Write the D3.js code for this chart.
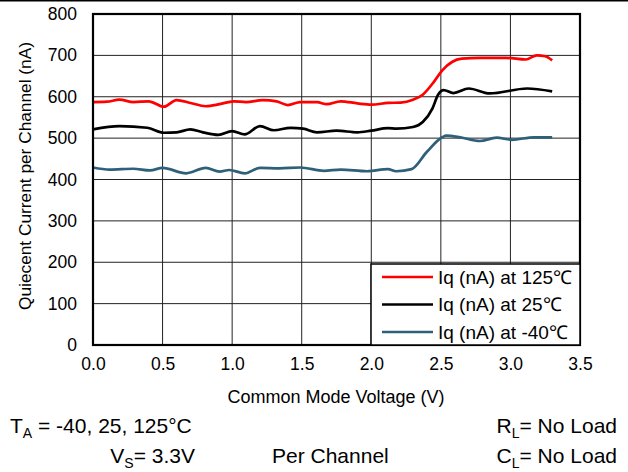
<!DOCTYPE html>
<html>
<head>
<meta charset="utf-8">
<script src="https://cdn.jsdelivr.net/npm/d3@7"></script>
<style>
  body { margin: 0; background: #fff; }
  text { font-family: "Liberation Sans", Arial, sans-serif; fill: #000; }
</style>
</head>
<body>
<svg id="chart" width="628" height="472"></svg>
<script>
// values
var volts125 = [0, 0.10, 0.19, 0.29, 0.40, 0.51, 0.60, 0.70, 0.81, 0.91, 1.01, 1.10, 1.22, 1.32, 1.40, 1.49, 1.61, 1.68, 1.78, 1.90, 2.00, 2.12, 2.21, 2.30, 2.37, 2.45, 2.51, 2.58, 2.65, 2.78, 2.97, 3.11, 3.19, 3.25, 3.30];
var iq125 = [587, 588, 593, 587, 589, 576, 592, 585, 577, 582, 589, 587, 592, 589, 580, 587, 587, 582, 589, 584, 581, 585, 586, 593, 605, 636, 664, 684, 692, 694, 694, 690, 700, 698, 688];

var volts25 = [0, 0.19, 0.39, 0.51, 0.60, 0.70, 0.79, 0.90, 1.00, 1.09, 1.20, 1.30, 1.42, 1.51, 1.61, 1.75, 1.90, 2.00, 2.12, 2.18, 2.30, 2.37, 2.44, 2.48, 2.52, 2.59, 2.70, 2.85, 3.12, 3.30];
var iq25 = [521, 529, 525, 513, 514, 521, 514, 508, 517, 509, 529, 519, 525, 523, 514, 518, 514, 518, 524, 523, 527, 539, 572, 605, 616, 609, 620, 608, 620, 613];

var voltsM40 = [0, 0.12, 0.29, 0.41, 0.50, 0.67, 0.81, 0.91, 0.98, 1.09, 1.20, 1.34, 1.49, 1.66, 1.78, 1.97, 2.12, 2.18, 2.29, 2.40, 2.51, 2.54, 2.64, 2.78, 2.90, 3.01, 3.17, 3.30];
var iqM40 = [429, 424, 426, 422, 428, 415, 428, 419, 423, 415, 428, 427, 429, 421, 424, 420, 425, 420, 425, 467, 502, 506, 502, 493, 501, 496, 502, 502];

var seriesNames = ["Iq (nA) at 125\u2103", "Iq (nA) at 25\u2103", "Iq (nA) at -40\u2103"];
var seriesColors = ["#ff0000", "#000000", "#2e6079"];
var xTicks = [0, 0.5, 1, 1.5, 2, 2.5, 3, 3.5];
var yTicks = [0, 100, 200, 300, 400, 500, 600, 700, 800];

var series = [
  volts125.map(function (v, i) { return [v, iq125[i]]; }),
  volts25.map(function (v, i) { return [v, iq25[i]]; }),
  voltsM40.map(function (v, i) { return [v, iqM40[i]]; })
];

var svg = d3.select("#chart");
// plot box (note: "top" is reserved on window, so use a margin object)
var plot = {left: 93, right: 580, top: 14, bottom: 345};

var x = d3.scaleLinear().domain([0, 3.5]).range([plot.left, plot.right]);
var y = d3.scaleLinear().domain([0, 800]).range([plot.bottom, plot.top]);

svg.append("rect").attr("width", 628).attr("height", 472).attr("fill", "#fff");

// thin rule across the top of the figure
svg.append("line")
  .attr("x1", 0).attr("x2", 628).attr("y1", 0.75).attr("y2", 0.75)
  .attr("stroke", "#000").attr("stroke-width", 1.5);

// grid
svg.append("g")
  .selectAll("line")
  .data(xTicks.slice(1, -1))
  .enter().append("line")
  .attr("x1", function (d) { return x(d); })
  .attr("x2", function (d) { return x(d); })
  .attr("y1", plot.top).attr("y2", plot.bottom)
  .attr("stroke", "#222").attr("stroke-width", 1);

svg.append("g")
  .selectAll("line")
  .data(yTicks.slice(1, -1))
  .enter().append("line")
  .attr("x1", plot.left).attr("x2", plot.right)
  .attr("y1", function (d) { return y(d); })
  .attr("y2", function (d) { return y(d); })
  .attr("stroke", "#222").attr("stroke-width", 1);

// axes (labels only, frame drawn separately)
var xAxis = svg.append("g")
  .attr("transform", "translate(0," + plot.bottom + ")")
  .call(d3.axisBottom(x).tickValues(xTicks).tickFormat(d3.format(".1f")).tickSize(0).tickPadding(13));
xAxis.select(".domain").remove();
xAxis.selectAll("text").attr("font-size", 17.5).attr("font-family", "Liberation Sans, Arial, sans-serif").attr("fill", "#000");

var yAxis = svg.append("g")
  .attr("transform", "translate(" + plot.left + ",0)")
  .call(d3.axisLeft(y).tickValues(yTicks).tickSize(0).tickPadding(16));
yAxis.select(".domain").remove();
yAxis.selectAll("text").attr("font-size", 17.5).attr("font-family", "Liberation Sans, Arial, sans-serif").attr("fill", "#000");

// lines
var line = d3.line()
  .x(function (d) { return x(d[0]); })
  .y(function (d) { return y(d[1]); })
  .curve(d3.curveMonotoneX);

svg.append("g")
  .selectAll("path")
  .data(series)
  .enter().append("path")
  .attr("d", line)
  .attr("fill", "none")
  .attr("stroke", function (d, i) { return seriesColors[i]; })
  .attr("stroke-width", 2.7);

// plot frame
svg.append("rect")
  .attr("x", plot.left).attr("y", plot.top)
  .attr("width", plot.right - plot.left).attr("height", plot.bottom - plot.top)
  .attr("fill", "none").attr("stroke", "#000").attr("stroke-width", 2.2);

// legend
var legend = svg.append("g");
legend.append("rect")
  .attr("x", 371).attr("y", 264).attr("width", 209).attr("height", 81)
  .attr("fill", "#fff").attr("stroke", "#000").attr("stroke-width", 1.5);
var rows = legend.selectAll("g.row")
  .data(seriesNames)
  .enter().append("g")
  .attr("class", "row")
  .attr("transform", function (d, i) { return "translate(0," + (277 + i * 27.5) + ")"; });
rows.append("line")
  .attr("x1", 382).attr("x2", 433)
  .attr("stroke", function (d, i) { return seriesColors[i]; })
  .attr("stroke-width", 2.7);
rows.append("text")
  .attr("x", 438).attr("y", 6.5)
  .attr("font-size", 19)
  .text(function (d) { return d; });

// axis titles
svg.append("text")
  .attr("x", 336).attr("y", 403)
  .attr("text-anchor", "middle")
  .attr("font-size", 18)
  .text("Common Mode Voltage (V)");

svg.append("text")
  .attr("transform", "translate(31,176) rotate(-90)")
  .attr("text-anchor", "middle")
  .attr("font-size", 17.3)
  .text("Quiecent Current per Channel (nA)");

// conditions under the chart
function subText(xp, yp, anchor, main, sub, rest) {
  var t = svg.append("text")
    .attr("x", xp).attr("y", yp)
    .attr("text-anchor", anchor)
    .attr("font-size", 21);
  t.append("tspan").text(main);
  t.append("tspan").attr("font-size", 14).attr("dy", 5).text(sub);
  t.append("tspan").attr("dy", -5).text(rest);
}
subText(10, 433, "start", "T", "A", " = -40, 25, 125\u00b0C");
subText(195, 463, "end", "V", "S", "= 3.3V");
subText(617, 433, "end", "R", "L", "= No Load");
subText(617, 463, "end", "C", "L", "= No Load");
svg.append("text")
  .attr("x", 272).attr("y", 463)
  .attr("font-size", 21)
  .text("Per Channel");
</script>
</body>
</html>
